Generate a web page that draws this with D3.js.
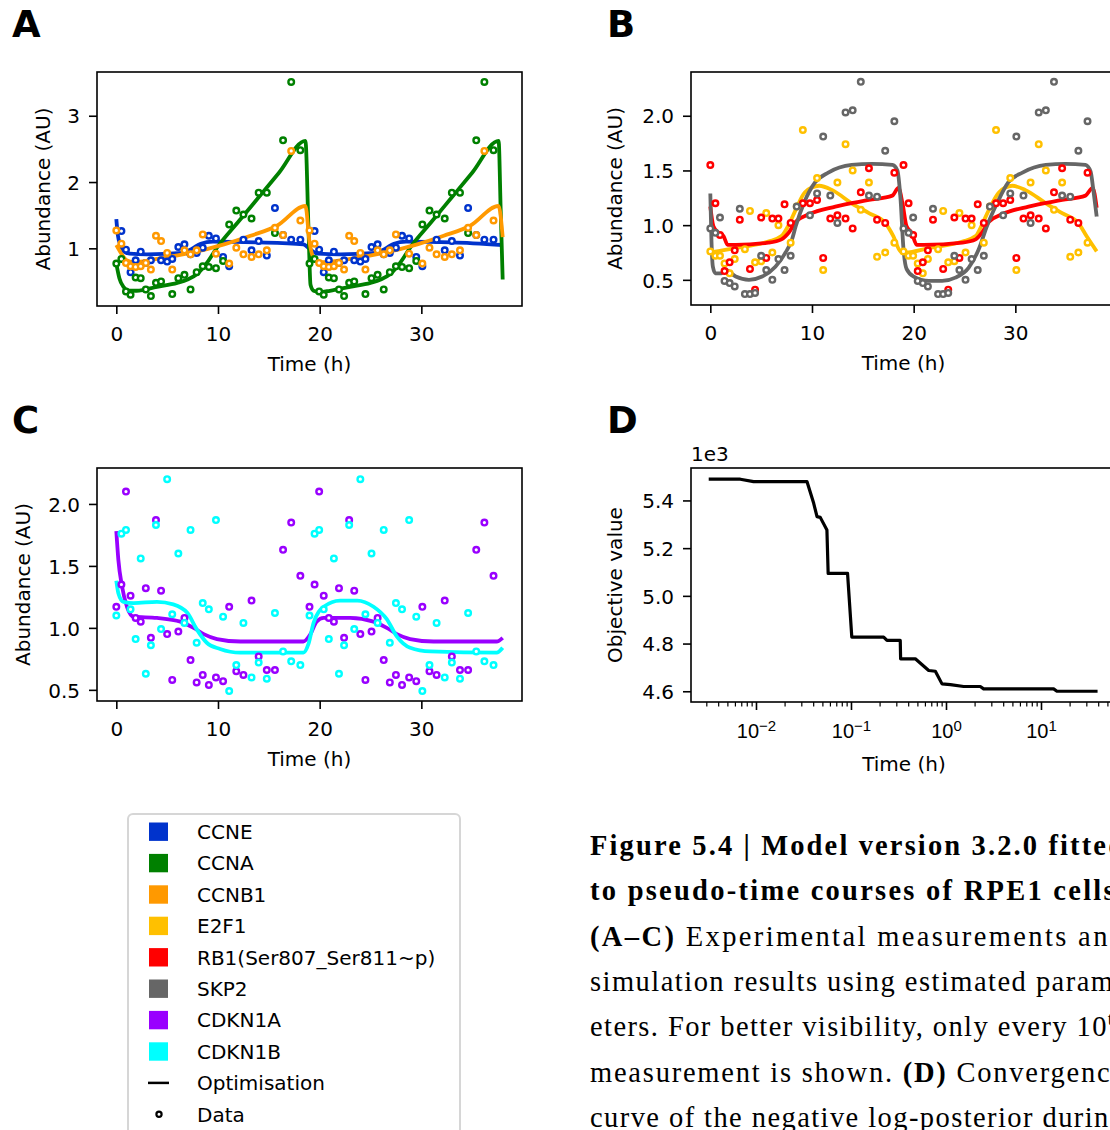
<!DOCTYPE html>
<html>
<head>
<meta charset="utf-8">
<script src="https://cdnjs.cloudflare.com/ajax/libs/d3/7.8.5/d3.min.js"></script>
<style>
  body { margin: 0; background: #fff; overflow: hidden; }
  svg { display: block; font-family: "DejaVu Sans", sans-serif; }
  svg text.caption, svg text.caption tspan {
    font-family: "Liberation Serif", "Times New Roman", Tinos, "DejaVu Serif", "Noto Serif", serif;
  }
</style>
</head>
<body>
<script>
/********************************************************/
// Species shown in the legend and their colours
const speciesNames = ["CCNE", "CCNA", "CCNB1", "E2F1", "RB1(Ser807_Ser811~p)", "SKP2", "CDKN1A", "CDKN1B"];
const speciesColors = ["#0033cc", "#008000", "#ff9900", "#ffc000", "#ff0000", "#666666", "#9900ff", "#00ffff"];
/********************************************************/
// Pseudo-time grid of one cell cycle (h); the cycle is plotted twice
const cycleTimes = [0, 0.5, 0.95, 1.4, 1.9, 2.4, 2.9, 3.4, 3.9, 4.4, 5.0, 5.5, 6.1, 6.7, 7.3,
  7.9, 8.5, 9.1, 9.8, 10.5, 11.1, 11.8, 12.5, 13.3, 14.0, 14.8, 15.6, 16.4, 17.2, 18.1];
const cycleStarts = [0, 19];
// Measurements (every 10th shown), null = not shown
const dataCCNE = [null, 1.26, 0.98, 0.64, 0.82, 0.95, 0.78, 0.82, null, 0.82, 0.80, 0.84, 1.02, 1.06, 0.91,
  0.93, 1.01, 1.19, 1.15, 0.87, 0.73, null, 1.13, 0.97, 1.11, 0.89, 1.61, 1.20, 1.13, 1.13];
const dataCCNA = [0.77, 0.84, 0.35, 0.30, 0.56, 0.55, 0.38, 0.28, 0.48, 0.50, null, 0.31, 0.55, 0.60, 0.38,
  0.64, 0.73, 0.72, 0.70, 0.81, 1.36, 1.57, 1.51, 1.45, 1.84, 1.84, 1.23, 2.63, 3.51, 2.48];
const dataCCNB1 = [1.27, 1.07, 0.78, 0.73, 0.72, 0.73, 0.78, 0.68, 1.19, 1.11, 0.93, 0.68, null, 0.97, 0.91,
  0.97, 1.21, null, 0.92, null, 0.77, 1.01, 0.91, 0.87, 0.91, 0.97, 1.31, 1.20, 2.47, 1.42];
const dataE2F1 = [0.76, 0.72, 0.72, 0.65, 0.56, 0.69, null, 0.78, 1.13, 0.66, 0.67, 1.11, 0.75, 1.00, null,
  0.84, 1.17, 1.87, null, 1.43, 0.59, null, 1.39, 1.74, 1.50, 1.14, 1.39, 0.71, 0.75, 0.84];
const dataRB1 = [1.55, 1.20, 0.91, 0.58, 0.66, 0.77, 1.05, null, 0.60, 0.41, 1.07, 0.70, 1.06, 1.06, 1.19,
  1.02, null, 1.20, 1.20, 1.23, 0.70, 1.06, 1.09, 1.06, 0.97, 1.30, 1.52, 1.05, 1.02, 1.48];
const dataSKP2 = [0.97, 0.93, 1.07, 0.49, 0.47, 0.44, 1.15, 0.37, 0.37, 0.38, 0.72, 0.59, 0.50, 0.69, 0.59,
  0.72, 1.17, null, 1.09, 1.29, 1.81, 1.27, 1.02, 2.03, 2.05, 2.31, 1.27, 1.26, 1.68, 1.95];
const dataCDKN1A = [1.17, 1.35, 2.10, 1.26, 1.08, 1.05, 1.32, 0.92, 1.87, 1.30, 0.95, 0.58, 0.97, 1.08, 0.74,
  0.56, 0.62, 0.54, 0.60, 0.57, 1.17, 0.65, 0.62, 1.22, 0.77, 0.66, 0.66, 1.63, 1.85, 1.42];
const dataCDKN1B = [1.10, 1.76, 1.79, 1.15, 0.91, 1.56, 0.63, 0.86, 1.83, 0.99, 2.20, 1.11, 1.60, 1.04, 1.79,
  0.88, 1.20, 1.15, 1.87, 1.09, 0.49, 0.70, 1.04, 0.60, 0.72, 0.59, 1.12, 0.81, 0.73, 0.70];
/********************************************************/
// Simulated trajectories with estimated parameters, [time, abundance]
const fitCCNE = [[0, 1.44], [0.15, 1.2], [0.4, 1.05], [0.8, 0.95], [1.3, 0.92], [3, 0.91], [6.5, 0.93], [7.5, 1.0],
  [8.3, 1.07], [9.5, 1.10], [14, 1.09], [18.4, 1.06], [19.1, 0.98], [19.8, 0.92], [22, 0.91], [25.5, 0.93],
  [26.5, 1.0], [27.3, 1.07], [28.5, 1.10], [33, 1.09], [38, 1.05]];
const fitCCNA = [[0, 0.77], [0.3, 0.55], [0.7, 0.42], [1.2, 0.36], [2, 0.36], [4, 0.42], [6, 0.48], [7, 0.53],
  [8, 0.62], [9, 0.8], [9.9, 1.01], [12, 1.40], [14, 1.77], [16, 2.14], [18.6, 2.62], [18.9, 1.3], [19.1, 0.45],
  [19.4, 0.36], [20, 0.34], [21, 0.36], [23, 0.42], [25, 0.48], [26, 0.53], [27, 0.62], [28, 0.8], [28.9, 1.01],
  [31, 1.40], [33, 1.77], [35, 2.14], [37.6, 2.62], [37.8, 1.6], [38, 0.53]];
const fitCCNB1 = [[0, 1.05], [0.5, 0.92], [1, 0.82], [1.7, 0.79], [4, 0.84], [7.3, 0.93], [10.6, 1.06], [13.2, 1.19],
  [15.8, 1.34], [18.6, 1.64], [19.0, 1.1], [19.4, 0.86], [20.2, 0.79], [23, 0.84], [26.3, 0.93], [29.6, 1.06],
  [32.2, 1.19], [34.8, 1.34], [37.6, 1.64], [38, 1.17]];
const fitE2F1 = [[0, 0.75], [2.5, 0.79], [5.7, 0.85], [7.0, 0.90], [7.7, 1.0], [8.4, 1.14], [9.3, 1.30], [10.7, 1.36],
  [12, 1.32], [13.9, 1.20], [15.6, 1.11], [17.2, 1.02], [18, 0.90], [18.7, 0.76], [19.2, 0.75], [21.5, 0.79],
  [24.8, 0.85], [26.1, 0.90], [26.7, 1.0], [27.4, 1.14], [28.4, 1.30], [29.7, 1.36], [31, 1.32], [33, 1.20],
  [34.6, 1.11], [36.2, 1.02], [37, 0.90], [38, 0.76]];
const fitRB1 = [[0, 1.17], [0.3, 0.99], [0.8, 0.93], [1.3, 0.9], [1.7, 0.82], [2.5, 0.82], [5.7, 0.84], [7.0, 0.87],
  [7.7, 0.93], [8.4, 1.03], [9.7, 1.10], [12.3, 1.17], [15.6, 1.23], [17.9, 1.27], [18.5, 1.34], [18.9, 1.20],
  [19.3, 0.99], [19.8, 0.93], [20.3, 0.82], [21, 0.82], [24.8, 0.84], [26.1, 0.87], [26.7, 0.93], [27.4, 1.03],
  [28.7, 1.10], [31.3, 1.17], [34.6, 1.23], [36.9, 1.27], [37.6, 1.34], [38, 1.16]];
const fitSKP2 = [[0, 1.29], [0.1, 0.9], [0.25, 0.62], [0.5, 0.56], [1.1, 0.56], [1.5, 0.59], [2.5, 0.53], [3.8, 0.50],
  [5.1, 0.53], [6.4, 0.62], [7.4, 0.75], [8.0, 0.86], [8.4, 0.99], [9.2, 1.20], [10.3, 1.39], [11.6, 1.48],
  [13.9, 1.55], [15.9, 1.56], [17.9, 1.55], [18.4, 1.5], [18.7, 1.25], [19.0, 0.78], [19.3, 0.60], [20, 0.53],
  [21.5, 0.49], [22.8, 0.49], [24.1, 0.52], [25.4, 0.61], [26.4, 0.78], [27.2, 0.99], [28.2, 1.20], [29.3, 1.39],
  [30.7, 1.48], [33, 1.55], [34.9, 1.56], [36.9, 1.55], [37.4, 1.49], [37.7, 1.3], [38, 1.08]];
const fitCDKN1A = [[0, 1.78], [0.2, 1.55], [0.55, 1.34], [1.05, 1.17], [1.7, 1.09], [4, 1.08], [6.3, 1.05], [7.6, 1.0],
  [8.6, 0.95], [9.9, 0.91], [12.2, 0.89], [18.4, 0.89], [19.1, 0.95], [19.7, 1.05], [20.4, 1.08], [23, 1.08],
  [25.3, 1.05], [26.6, 1.0], [27.6, 0.95], [28.9, 0.91], [31.2, 0.89], [37.4, 0.89], [38, 0.92]];
const fitCDKN1B = [[0, 1.38], [0.2, 1.28], [0.7, 1.21], [1.7, 1.20], [4, 1.21], [5.6, 1.19], [7.0, 1.12], [7.9, 0.99],
  [8.9, 0.88], [10.2, 0.83], [12.2, 0.80], [18.4, 0.80], [18.9, 0.87], [19.4, 1.04], [20.4, 1.17], [22, 1.22],
  [23.7, 1.22], [25.3, 1.17], [26.6, 1.07], [27.6, 0.93], [28.9, 0.84], [30.9, 0.81], [37.4, 0.80], [38, 0.84]];
/********************************************************/
// Convergence of the optimiser (panel D)
const convTime = [0.00318, 0.00684, 0.00944, 0.0344, 0.0405, 0.0439, 0.0475, 0.0558, 0.0575, 0.092, 0.102,
  0.2208, 0.2393, 0.330, 0.333, 0.4753, 0.6577, 0.7727, 0.9078, 1.112, 1.535, 2.296, 2.489, 13.58, 14.72, 39.4];
const convValue = [5489, 5489, 5479, 5479, 5388, 5332, 5329, 5276, 5094, 5094, 4827,
  4827, 4813, 4813, 4736, 4736, 4687, 4684, 4631, 4628, 4620, 4620, 4610, 4610, 4600, 4600];
/********************************************************/
const timeTicks = [0, 10, 20, 30];
const ticksA = [1, 2, 3];
const ticksBC = [0.5, 1.0, 1.5, 2.0];
const ticksD = [4600, 4800, 5000, 5200, 5400];
const logMajors = [0.01, 0.1, 1, 10];
const captionLines = [
  [{ t: "Figure 5.4 | Model version 3.2.0 fitted", b: true }],
  [{ t: "to pseudo-time courses of RPE1 cells.", b: true }],
  [{ t: "(A–C)", b: true }, { t: " Experimental measurements and" }],
  [{ t: "simulation results using estimated param-" }],
  [{ t: "eters. For better visibility, only every 10" }, { t: "th", sup: true }],
  [{ t: "measurement is shown. " }, { t: "(D)", b: true }, { t: " Convergence" }],
  [{ t: "curve of the negative log-posterior during" }],
];
/********************************************************/
const svgWidth = 1110;
const svgHeight = 1130;
const fontSize = 20;

const svg = d3.select("body").append("svg").attr("width", svgWidth).attr("height", svgHeight);

const colorOf = (name) => speciesColors[speciesNames.indexOf(name)];

function frame(box) {
  svg.append("rect")
    .attr("x", box.left).attr("y", box.top)
    .attr("width", box.right - box.left).attr("height", box.bottom - box.top)
    .attr("fill", "none").attr("stroke", "#000").attr("stroke-width", 1.6);
}

function styleAxis(g) {
  g.select(".domain").remove();
  g.selectAll(".tick line").attr("stroke", "#000").attr("stroke-width", 1.6);
  g.selectAll("text").attr("font-size", fontSize).attr("fill", "#000").attr("font-family", "DejaVu Sans");
}

function timePanel(box, yDomain, yTicks, yFmt, series, labelX) {
  const x = d3.scaleLinear().domain([-1.9, 39.9]).range([box.left, box.right]);
  const y = d3.scaleLinear().domain(yDomain).range([box.bottom, box.top]);

  const gx = svg.append("g").attr("transform", `translate(0, ${box.bottom})`)
    .call(d3.axisBottom(x).tickValues(timeTicks).tickSize(8).tickFormat(d3.format("d")));
  styleAxis(gx);
  gx.selectAll("text").attr("dy", null).attr("y", 35);

  const gy = svg.append("g").attr("transform", `translate(${box.left}, 0)`)
    .call(d3.axisLeft(y).tickValues(yTicks).tickSize(8).tickFormat(yFmt));
  styleAxis(gy);
  gy.selectAll("text").attr("x", -17).attr("dy", "0.36em");

  const line = d3.line().x((d) => x(d[0])).y((d) => y(d[1])).curve(d3.curveMonotoneX);
  const plot = svg.append("g");
  series.forEach((s) => {
    plot.append("path").datum(s.fit)
      .attr("d", line).attr("fill", "none")
      .attr("stroke", colorOf(s.name)).attr("stroke-width", 3.8)
      .attr("stroke-linejoin", "round");
  });
  series.forEach((s) => {
    const pts = [];
    cycleStarts.forEach((c0) => cycleTimes.forEach((t, i) => {
      if (s.data[i] !== null) pts.push([c0 + t, s.data[i]]);
    }));
    plot.selectAll(null).data(pts).enter().append("circle")
      .attr("cx", (d) => x(d[0])).attr("cy", (d) => y(d[1])).attr("r", 2.8)
      .attr("fill", "#fff").attr("stroke", colorOf(s.name)).attr("stroke-width", 2.4);
  });
  frame(box);

  svg.append("text").attr("x", (box.left + box.right) / 2).attr("y", box.bottom + 65)
    .attr("text-anchor", "middle").attr("font-size", fontSize).text("Time (h)");
  svg.append("text")
    .attr("transform", `translate(${labelX}, ${(box.top + box.bottom) / 2}) rotate(-90)`)
    .attr("text-anchor", "middle").attr("font-size", fontSize).text("Abundance (AU)");
}
/********************************************************/
// Panels A-C
timePanel({ left: 97, right: 522, top: 72, bottom: 306 }, [0.13, 3.66], ticksA, d3.format("d"),
  [{ name: "CCNE", data: dataCCNE, fit: fitCCNE },
   { name: "CCNA", data: dataCCNA, fit: fitCCNA },
   { name: "CCNB1", data: dataCCNB1, fit: fitCCNB1 }], 49.5);

timePanel({ left: 691, right: 1116, top: 72, bottom: 305 }, [0.27, 2.40], ticksBC, d3.format(".1f"),
  [{ name: "E2F1", data: dataE2F1, fit: fitE2F1 },
   { name: "RB1(Ser807_Ser811~p)", data: dataRB1, fit: fitRB1 },
   { name: "SKP2", data: dataSKP2, fit: fitSKP2 }], 622);

timePanel({ left: 97, right: 522, top: 468, bottom: 701 }, [0.41, 2.29], ticksBC, d3.format(".1f"),
  [{ name: "CDKN1A", data: dataCDKN1A, fit: fitCDKN1A },
   { name: "CDKN1B", data: dataCDKN1B, fit: fitCDKN1B }], 29.5);
/********************************************************/
// Panel D
(function () {
  const box = { left: 691, right: 1117, top: 468, bottom: 702 };
  const x = d3.scaleLog().domain([Math.pow(10, -2.684), Math.pow(10, 1.8)]).range([box.left, box.right]);
  const y = d3.scaleLinear().domain([4555, 5536]).range([box.bottom, box.top]);

  const minors = x.ticks().filter((t) => !logMajors.some((m) => Math.abs(m - t) / m < 1e-6));
  const gm = svg.append("g").attr("transform", `translate(0, ${box.bottom})`)
    .call(d3.axisBottom(x).tickValues(minors).tickSize(4.5).tickFormat(""));
  styleAxis(gm);
  gm.selectAll(".tick line").attr("stroke-width", 1.2);

  const gx = svg.append("g").attr("transform", `translate(0, ${box.bottom})`)
    .call(d3.axisBottom(x).tickValues(logMajors).tickSize(8).tickFormat(""));
  styleAxis(gx);
  gx.selectAll(".tick").append("text")
    .attr("y", 36).attr("text-anchor", "middle").attr("font-size", fontSize).attr("fill", "#000")
    .each(function (d) {
      const e = Math.round(Math.log10(d));
      const t = d3.select(this);
      t.append("tspan").text("10");
      t.append("tspan").attr("dy", "-0.5em").attr("font-size", 15).text(e < 0 ? "−" + (-e) : String(e));
    });

  const gy = svg.append("g").attr("transform", `translate(${box.left}, 0)`)
    .call(d3.axisLeft(y).tickValues(ticksD).tickSize(8).tickFormat((d) => (d / 1000).toFixed(1)));
  styleAxis(gy);
  gy.selectAll("text").attr("x", -17).attr("dy", "0.36em");

  const line = d3.line().x((d, i) => x(convTime[i])).y((d) => y(d));
  svg.append("path").datum(convValue).attr("d", line)
    .attr("fill", "none").attr("stroke", "#000").attr("stroke-width", 3.2).attr("stroke-linejoin", "round");
  frame(box);

  svg.append("text").attr("x", box.left).attr("y", 461).attr("font-size", fontSize).text("1e3");
  svg.append("text").attr("x", (box.left + box.right) / 2).attr("y", box.bottom + 69)
    .attr("text-anchor", "middle").attr("font-size", fontSize).text("Time (h)");
  svg.append("text")
    .attr("transform", `translate(622, ${(box.top + box.bottom) / 2}) rotate(-90)`)
    .attr("text-anchor", "middle").attr("font-size", fontSize).text("Objective value");
})();
/********************************************************/
// Panel letters
[["A", 12, 37], ["B", 607, 37], ["C", 12, 433], ["D", 607, 433]].forEach(([l, px, py]) => {
  svg.append("text").attr("x", px).attr("y", py).attr("font-size", 37).attr("font-weight", "bold").text(l);
});
/********************************************************/
// Legend
const legend = svg.append("g");
legend.append("rect").attr("x", 128).attr("y", 814).attr("width", 332).attr("height", 340).attr("rx", 5)
  .attr("fill", "#fff").attr("stroke", "#d6d6d6").attr("stroke-width", 2);
const legendRows = speciesNames.map((n, i) => ({ label: n, kind: "patch", color: speciesColors[i] }))
  .concat([{ label: "Optimisation", kind: "line" }, { label: "Data", kind: "dot" }]);
legendRows.forEach((r, i) => {
  const cy = 831.7 + i * 31.4;
  if (r.kind === "patch") {
    legend.append("rect").attr("x", 149).attr("y", cy - 9.2).attr("width", 19).attr("height", 18.4).attr("fill", r.color);
  } else if (r.kind === "line") {
    legend.append("line").attr("x1", 148).attr("x2", 169).attr("y1", cy).attr("y2", cy)
      .attr("stroke", "#000").attr("stroke-width", 2.5);
  } else {
    legend.append("circle").attr("cx", 159).attr("cy", cy).attr("r", 2.6)
      .attr("fill", "#fff").attr("stroke", "#000").attr("stroke-width", 2.2);
  }
  legend.append("text").attr("x", 197).attr("y", cy).attr("dy", "0.36em").attr("font-size", fontSize).text(r.label);
});
/********************************************************/
// Caption (the right edge runs past the page, as in the source figure)
captionLines.forEach((parts, i) => {
  const t = svg.append("text").attr("class", "caption")
    .attr("x", 590).attr("y", 855 + i * 45.3).attr("font-size", 28.5)
    .attr("textLength", 534).attr("lengthAdjust", "spacing");
  parts.forEach((p) => {
    const s = t.append("tspan").text(p.t);
    if (p.b) s.attr("font-weight", "bold");
    if (p.sup) s.attr("font-size", 19).attr("dy", "-0.6em");
  });
});
</script>
</body>
</html>
